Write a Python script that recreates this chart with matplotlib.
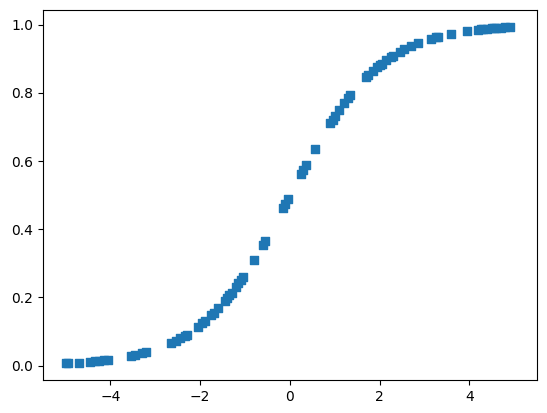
import matplotlib

matplotlib.use("Agg")
import matplotlib.pyplot as plt

# values
x_vals = [
    -5.0, -4.95, -4.7, -4.45, -4.35, -4.25, -4.15, -4.05,
    -3.55, -3.45, -3.3, -3.2,
    -2.65, -2.55, -2.45, -2.35, -2.3,
    -2.05, -1.95, -1.9, -1.75, -1.7, -1.6,
    -1.45, -1.4, -1.35, -1.3, -1.2, -1.15, -1.1, -1.05,
    -0.8, -0.6, -0.55, -0.15, -0.1, -0.05,
    0.25, 0.3, 0.35, 0.55,
    0.9, 0.95, 1.0, 1.1, 1.2, 1.3, 1.35,
    1.7, 1.75, 1.85, 1.95, 2.0, 2.05, 2.15, 2.25, 2.3,
    2.45, 2.55, 2.7, 2.85, 3.15, 3.25, 3.3, 3.6, 3.95,
    4.2, 4.25, 4.3, 4.4, 4.5, 4.55, 4.6, 4.7, 4.8, 4.9,
]
y_vals = [
    0.007, 0.007, 0.009, 0.012, 0.013, 0.014, 0.016, 0.017,
    0.028, 0.031, 0.036, 0.039,
    0.066, 0.072, 0.080, 0.087, 0.091,
    0.114, 0.125, 0.130, 0.148, 0.154, 0.168,
    0.190, 0.198, 0.206, 0.214, 0.231, 0.241, 0.250, 0.259,
    0.310, 0.354, 0.366, 0.463, 0.475, 0.488,
    0.562, 0.574, 0.587, 0.634,
    0.711, 0.721, 0.731, 0.750, 0.769, 0.786, 0.794,
    0.846, 0.852, 0.864, 0.876, 0.881, 0.886, 0.896, 0.905, 0.909,
    0.921, 0.928, 0.937, 0.945, 0.959, 0.963, 0.964, 0.973, 0.981,
    0.985, 0.986, 0.987, 0.988, 0.989, 0.990, 0.990, 0.991, 0.992, 0.993,
]

fig, ax = plt.subplots(figsize=(5.47, 4.13), dpi=100)
fig.subplots_adjust(left=0.079, right=0.981, bottom=0.08, top=0.975)
ax.scatter(x_vals, y_vals, marker="s", s=36, color="#1f77b4")
ax.set_xlim(-5.5, 5.5)
ax.set_ylim(-0.042, 1.042)

fig.savefig("out.png", dpi=100)
